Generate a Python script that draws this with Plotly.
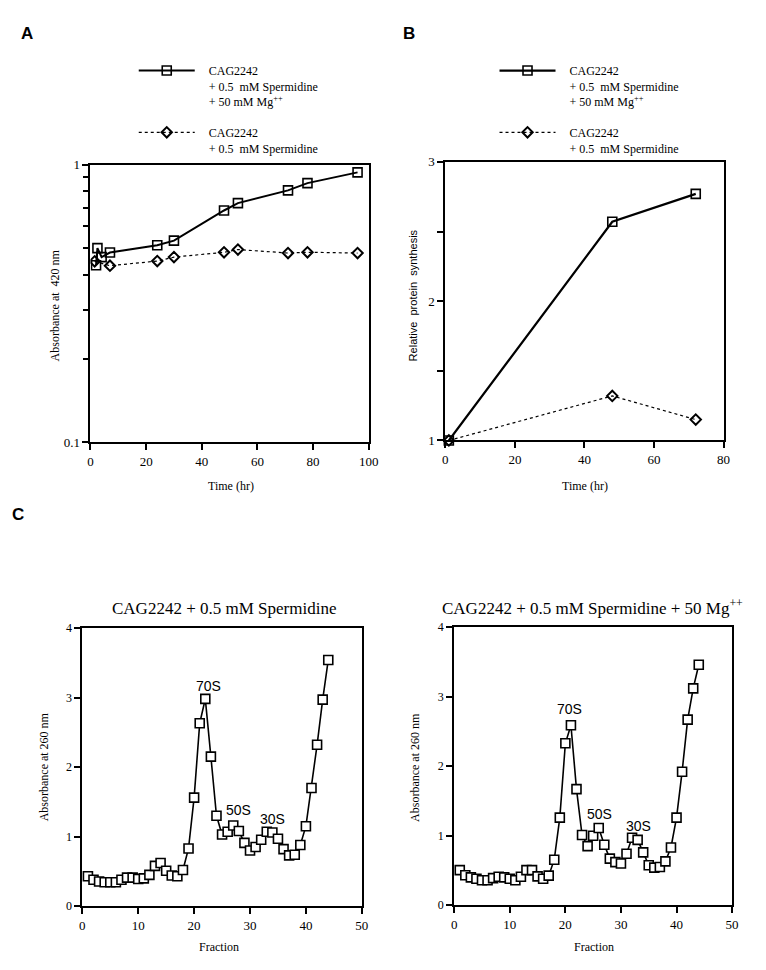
import plotly.graph_objects as go

# ---------------- data ----------------
# Panel A (absorbance at 420 nm, log scale)
a_sq_x = [2, 2.5, 4, 7, 24, 30, 48, 53, 71, 78, 96]
a_sq_y = [0.434, 0.50, 0.464, 0.482, 0.512, 0.532, 0.683, 0.726, 0.807, 0.857, 0.937]
a_di_x = [1.5, 7, 24, 30, 48, 53, 71, 78, 96]
a_di_y = [0.448, 0.432, 0.449, 0.464, 0.483, 0.494, 0.48, 0.483, 0.48]

# Panel B (relative protein synthesis)
b_x = [1, 48, 72]
b_sq_y = [1.0, 2.57, 2.77]
b_di_y = [1.0, 1.32, 1.15]

# Panel C (ribosome profiles)
c_frac = list(range(1, 45))
c_left = [0.43, 0.38, 0.355, 0.345, 0.345, 0.345, 0.38, 0.41, 0.41, 0.39,
          0.40, 0.45, 0.58, 0.62, 0.51, 0.44, 0.43, 0.52, 0.83, 1.56,
          2.63, 2.98, 2.15, 1.30, 1.03, 1.07, 1.16, 1.08, 0.91, 0.80,
          0.85, 0.955, 1.07, 1.06, 0.97, 0.82, 0.73, 0.74, 0.88, 1.15,
          1.70, 2.32, 2.97, 3.54]
c_right = [0.505, 0.43, 0.40, 0.38, 0.36, 0.36, 0.39, 0.41, 0.40, 0.38,
           0.36, 0.41, 0.505, 0.505, 0.415, 0.38, 0.425, 0.655, 1.26, 2.33,
           2.59, 1.67, 1.01, 0.85, 1.00, 1.11, 0.87, 0.67, 0.62, 0.60,
           0.74, 0.97, 0.94, 0.76, 0.575, 0.54, 0.55, 0.63, 0.83, 1.26,
           1.92, 2.67, 3.12, 3.46]

left_peaks = ["70S", "50S", "30S"]
left_peak_x = [22.5, 28, 34.1]
left_peak_y = [3.16, 1.38, 1.26]
right_peak_x = [20.8, 26.1, 33.2]
right_peak_y = [2.82, 1.31, 1.14]

PAD = "&nbsp;&nbsp;&nbsp;"
name_mg = PAD + "CAG2242<br>" + PAD + "+ 0.5  mM Spermidine<br>" + PAD + "+ 50 mM Mg<sup>++</sup>"
name_sp = PAD + "CAG2242<br>" + PAD + "+ 0.5  mM Spermidine"

# ---------------- styles ----------------
W, H = 766, 970
SERIF = "Liberation Serif"
SANS = "Liberation Sans"
BLACK = "#000000"

def px(x):
    return x / W

def py(y):
    return 1 - y / H

sq_marker = dict(symbol="square-open", size=9, color=BLACK, line=dict(width=1.6, color=BLACK))
di_marker = dict(symbol="diamond-open", size=8, color=BLACK, line=dict(width=2, color=BLACK))

fig = go.Figure()

# Panel A
fig.add_trace(go.Scatter(x=a_sq_x, y=a_sq_y, mode="lines+markers", name=name_mg,
                         line=dict(color=BLACK, width=2), marker=sq_marker,
                         xaxis="x", yaxis="y", legend="legend", legendgroup="a1"))
fig.add_trace(go.Scatter(x=a_di_x, y=a_di_y, mode="lines+markers", name=name_sp,
                         line=dict(color=BLACK, width=1.2, dash="dot"), marker=di_marker,
                         xaxis="x", yaxis="y", legend="legend", legendgroup="a2"))
# Panel B
fig.add_trace(go.Scatter(x=b_x, y=b_sq_y, mode="lines+markers", name=name_mg,
                         line=dict(color=BLACK, width=2.2), marker=sq_marker, cliponaxis=False,
                         xaxis="x2", yaxis="y2", legend="legend2", legendgroup="b1"))
fig.add_trace(go.Scatter(x=b_x, y=b_di_y, mode="lines+markers", name=name_sp,
                         line=dict(color=BLACK, width=1.2, dash="dot"), marker=di_marker, cliponaxis=False,
                         xaxis="x2", yaxis="y2", legend="legend2", legendgroup="b2"))
# Panel C
c_marker = dict(symbol="square", size=9, color="white", line=dict(width=1.6, color=BLACK))
fig.add_trace(go.Scatter(x=c_frac, y=c_left, mode="lines+markers", showlegend=False,
                         line=dict(color=BLACK, width=1.6), marker=c_marker, cliponaxis=False,
                         xaxis="x3", yaxis="y3"))
fig.add_trace(go.Scatter(x=c_frac, y=c_right, mode="lines+markers", showlegend=False,
                         line=dict(color=BLACK, width=1.6), marker=c_marker, cliponaxis=False,
                         xaxis="x4", yaxis="y4"))


def axis(domain, anchor, **kw):
    d = dict(domain=domain, anchor=anchor, showline=True, linewidth=2, linecolor=BLACK,
             mirror=True, ticks="outside", ticklen=6, tickwidth=1.5, tickcolor=BLACK,
             showgrid=False, zeroline=False,
             tickfont=dict(family=SERIF, size=13, color=BLACK))
    d.update(kw)
    return d

fig.update_layout(
    width=W, height=H, margin=dict(l=0, r=0, t=0, b=0), autosize=False,
    paper_bgcolor="white", plot_bgcolor="white",
    font=dict(family=SERIF, color=BLACK),
    xaxis=axis([px(89), px(372)], "y", range=[0, 100], tickvals=[0, 20, 40, 60, 80, 100]),
    yaxis=axis([py(442), py(160)], "x", type="log", range=[-1, 0],
               tickvals=[0.1, 1], ticktext=["0.1", "1"],
               minor=dict(tickvals=[0.2, 0.3, 0.4, 0.5, 0.6, 0.7, 0.8, 0.9],
                          ticks="outside", ticklen=5, tickwidth=1.5, tickcolor=BLACK)),
    xaxis2=axis([px(450), px(733)], "y2", range=[0, 80], tickvals=[0, 20, 40, 60, 80]),
    yaxis2=axis([py(440.3), py(157.3)], "x2", range=[1, 3], tickvals=[1, 2, 3],
                minor=dict(tickvals=[1.5, 2.5], ticks="outside", ticklen=6,
                           tickwidth=1.5, tickcolor=BLACK)),
    xaxis3=axis([px(80.7), px(365)], "y3", range=[0, 50], tickvals=[0, 10, 20, 30, 40, 50]),
    yaxis3=axis([py(913.3), py(630.7)], "x3", range=[0, 4], tickvals=[0, 1, 2, 3, 4],
                tickfont=dict(family=SERIF, size=12, color=BLACK)),
    xaxis4=axis([px(459), px(741.7)], "y4", range=[0, 50], tickvals=[0, 10, 20, 30, 40, 50]),
    yaxis4=axis([py(912.3), py(630)], "x4", range=[0, 4], tickvals=[0, 1, 2, 3, 4],
                tickfont=dict(family=SERIF, size=12, color=BLACK)),
    legend=dict(x=px(133), y=py(50), xanchor="left", yanchor="top", valign="top",
                bgcolor="rgba(0,0,0,0)", itemwidth=56, tracegroupgap=12,
                font=dict(family=SERIF, size=12, color=BLACK)),
    legend2=dict(x=px(500), y=py(50), xanchor="left", yanchor="top", valign="top",
                 bgcolor="rgba(0,0,0,0)", itemwidth=56, tracegroupgap=12,
                 font=dict(family=SERIF, size=12, color=BLACK)),
)

ann = []
def label(text, x, y, size=12, family=SERIF, angle=0, bold=False, xanchor="center"):
    ann.append(dict(text=("<b>%s</b>" % text) if bold else text, x=px(x), y=py(y),
                    xref="paper", yref="paper", showarrow=False, textangle=angle,
                    xanchor=xanchor, yanchor="middle",
                    font=dict(family=family, size=size, color=BLACK)))

# panel letters
label("A", 24, 27, size=17, family=SANS, bold=True)
label("B", 413, 27, size=17, family=SANS, bold=True)
label("C", 15, 515, size=17, family=SANS, bold=True)
# axis titles
label("Absorbance at  420 nm", 53, 303, size=12, angle=-90)
label("Time (hr)", 232, 487, size=12)
label("Relative  protein  synthesis", 418, 293, size=11, family=SANS, angle=-90)
label("Time (hr)", 592, 487, size=12)
label("Absorbance at 260 nm", 42, 772, size=12, angle=-90)
label("Fraction", 220, 955, size=12)
label("Absorbance at 260 nm", 419, 772, size=12, angle=-90)
label("Fraction", 601, 955, size=12)
# panel C titles
label("CAG2242 + 0.5 mM Spermidine", 225, 611, size=17)
label("CAG2242 + 0.5 mM Spermidine + 50 Mg<sup>++</sup>", 600, 609, size=17)

for t, x, y in zip(left_peaks, left_peak_x, left_peak_y):
    ann.append(dict(text=t, x=x, y=y, xref="x3", yref="y3", showarrow=False,
                    font=dict(family=SANS, size=14, color=BLACK)))
for t, x, y in zip(left_peaks, right_peak_x, right_peak_y):
    ann.append(dict(text=t, x=x, y=y, xref="x4", yref="y4", showarrow=False,
                    font=dict(family=SANS, size=14, color=BLACK)))

fig.update_layout(annotations=ann)
fig.write_html("out.html", config={"displayModeBar": False},
               post_script=("document.documentElement.style.margin='0';"
                            "document.documentElement.style.overflow='hidden';"
                            "document.body.style.margin='0';"
                            "document.body.style.padding='0';"
                            "document.body.style.overflow='hidden';"))
